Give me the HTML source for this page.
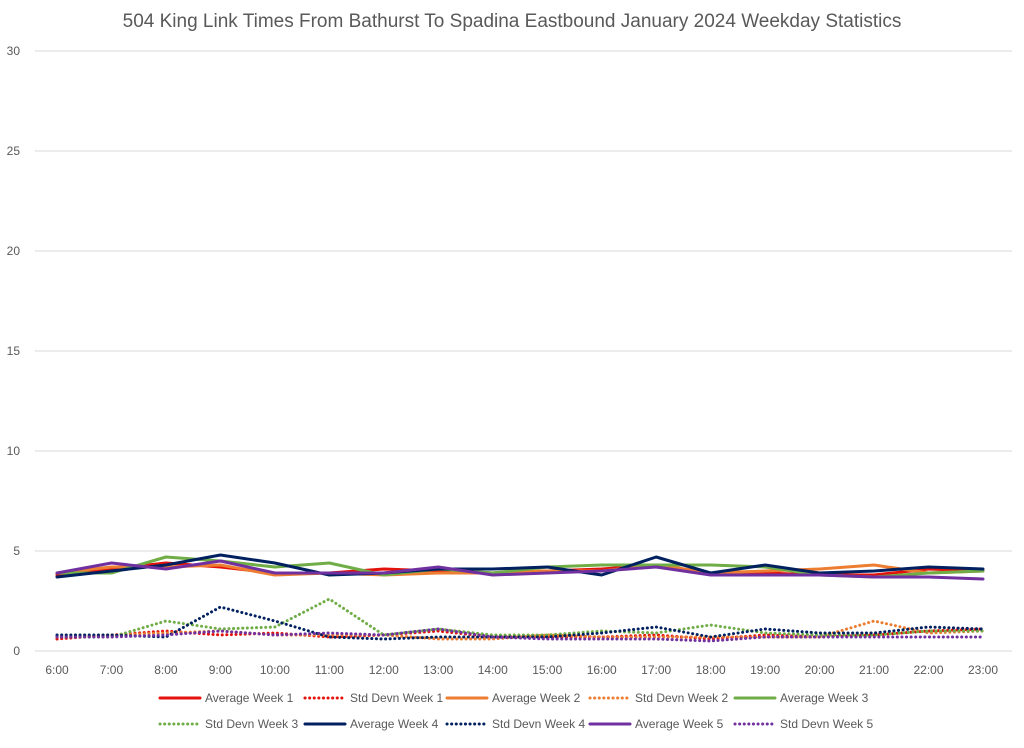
<!DOCTYPE html>
<html><head><meta charset="utf-8"><style>
body{margin:0;background:#fff;font-family:"Liberation Sans",sans-serif}
svg text{font-family:"Liberation Sans",sans-serif;fill:#595959}
</style></head><body>
<svg id="c" width="1024" height="743">
<text x="512" y="27" text-anchor="middle" font-size="19">504 King Link Times From Bathurst To Spadina Eastbound January 2024 Weekday Statistics</text>
<g id="grid"></g><g id="series"></g><g id="legend"></g>
</svg>
<script>
const categories=["6:00","7:00","8:00","9:00","10:00","11:00","12:00","13:00","14:00","15:00","16:00","17:00","18:00","19:00","20:00","21:00","22:00","23:00"];
const yTicks=[0,5,10,15,20,25,30];
const avgW1=[3.8,4.1,4.4,4.2,3.9,3.9,4.1,4.0,3.9,4.0,4.1,4.3,3.9,3.9,3.8,3.8,4.1,4.0];
const avgW2=[3.9,4.2,4.2,4.3,3.8,3.9,3.8,3.9,3.9,4.0,4.0,4.3,3.9,4.0,4.1,4.3,3.9,4.0];
const avgW3=[3.9,3.9,4.7,4.5,4.2,4.4,3.8,4.1,3.9,4.2,4.3,4.3,4.3,4.2,3.8,3.7,3.9,4.0];
const avgW4=[3.7,4.0,4.3,4.8,4.4,3.8,3.9,4.1,4.1,4.2,3.8,4.7,3.9,4.3,3.9,4.0,4.2,4.1];
const avgW5=[3.9,4.4,4.1,4.5,3.9,3.9,3.9,4.2,3.8,3.9,4.0,4.2,3.8,3.8,3.8,3.7,3.7,3.6];
const sdW1=[0.6,0.8,1.0,0.8,0.9,0.7,0.8,1.0,0.7,0.7,0.7,0.8,0.6,0.8,0.7,0.8,1.0,1.1];
const sdW2=[0.7,0.8,0.9,1.0,0.8,0.8,0.8,0.6,0.6,0.8,0.7,0.7,0.7,0.7,0.7,1.5,0.9,1.0];
const sdW3=[0.7,0.7,1.5,1.1,1.2,2.6,0.8,1.1,0.8,0.8,1.0,0.9,1.3,0.9,0.8,0.8,1.0,1.0];
const sdW4=[0.8,0.8,0.7,2.2,1.5,0.7,0.6,0.7,0.7,0.7,0.9,1.2,0.7,1.1,0.9,0.9,1.2,1.1];
const sdW5=[0.7,0.7,0.8,1.0,0.8,0.9,0.8,1.1,0.7,0.6,0.6,0.6,0.5,0.7,0.7,0.7,0.7,0.7];
const NS="http://www.w3.org/2000/svg";
const X=i=>57+i*(983-57)/(categories.length-1);
const Y=v=>651-v*20;
function mk(t,a,p){const e=document.createElementNS(NS,t);for(const k in a)e.setAttribute(k,a[k]);p.appendChild(e);return e;}
const grid=document.getElementById('grid');
yTicks.forEach(v=>{
 const l=mk('line',{x1:35,x2:1012,y1:Y(v),y2:Y(v),stroke:'#d9d9d9','stroke-width':1},grid);
 
 
 const t=mk('text',{x:20,y:Y(v)+4,'text-anchor':'end','font-size':12},grid);t.textContent=v;
 
 
});
categories.forEach((c,i)=>{
 const t=mk('text',{x:X(i),y:674,'text-anchor':'middle','font-size':12},grid);t.textContent=c;
 
 
});
const series=[
 {n:"Average Week 1",d:avgW1,c:"#e3120b",dot:false},
 {n:"Std Devn Week 1",d:sdW1,c:"#e3120b",dot:true},
 {n:"Average Week 2",d:avgW2,c:"#ed7d31",dot:false},
 {n:"Std Devn Week 2",d:sdW2,c:"#ed7d31",dot:true},
 {n:"Average Week 3",d:avgW3,c:"#70ad47",dot:false},
 {n:"Std Devn Week 3",d:sdW3,c:"#70ad47",dot:true},
 {n:"Average Week 4",d:avgW4,c:"#002060",dot:false},
 {n:"Std Devn Week 4",d:sdW4,c:"#002060",dot:true},
 {n:"Average Week 5",d:avgW5,c:"#7030a0",dot:false},
 {n:"Std Devn Week 5",d:sdW5,c:"#7030a0",dot:true}];
const sg=document.getElementById('series'),lg=document.getElementById('legend');
const order=[1,3,5,7,9,0,2,4,6,8];
order.forEach(k=>{const s=series[k];
 const p=mk('polyline',{points:s.d.map((v,i)=>X(i)+','+Y(v)).join(' '),fill:'none',stroke:s.c,'stroke-width':s.dot?3:3,'stroke-linejoin':'round','stroke-linecap':'round','stroke-dasharray':s.dot?'0.1 4.5':'none'},sg);
 
 
});
const lx=[160,305,447,590,735];
series.forEach((s,k)=>{
 const row=k<5?0:1,col=k%5,y=row?724:698,x=lx[col];
 const g=mk('g',{},lg);
 
 
 mk('line',{x1:x,x2:x+40,y1:y,y2:y,stroke:s.c,'stroke-width':3,'stroke-linecap':'round','stroke-dasharray':s.dot?'0.1 4.5':'none'},g);
 const t=mk('text',{x:x+45,y:y+4,'font-size':12},g);t.textContent=s.n;
});
</script>
</body></html>
